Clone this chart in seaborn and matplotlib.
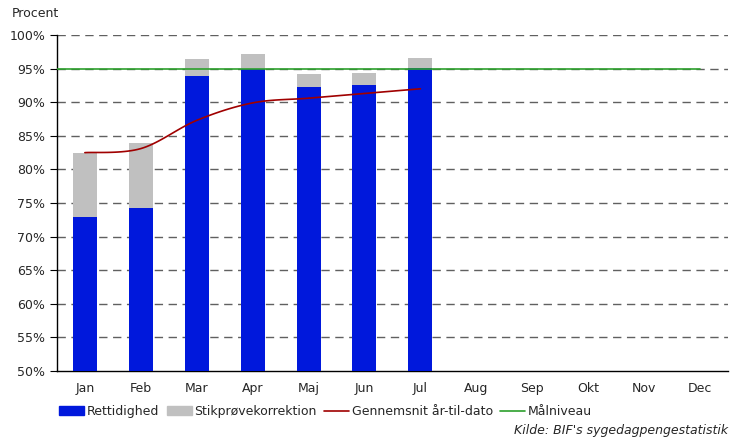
import numpy as np
import pandas as pd
import seaborn as sns
import matplotlib.pyplot as plt
from matplotlib.patches import Patch
from matplotlib.lines import Line2D

months = ["Jan", "Feb", "Mar", "Apr", "Maj", "Jun", "Jul", "Aug", "Sep", "Okt", "Nov", "Dec"]
months_data = ["Jan", "Feb", "Mar", "Apr", "Maj", "Jun", "Jul"]
rettidighed = [72.9, 74.3, 93.9, 94.9, 92.3, 92.6, 95.1]
stikproeve_total = [82.4, 83.9, 96.4, 97.2, 94.2, 94.3, 96.6]
gennemsnit = [82.5, 83.1, 87.3, 89.9, 90.6, 91.3, 92.0]
maalniveau = 95

sns.set_style("white")
plt.rcParams['font.family'] = ['DejaVu Sans']

df = pd.DataFrame({"maaned": months_data, "rettidighed": rettidighed,
                   "total": stikproeve_total})

fig = plt.figure(figsize=(7.39, 4.46), dpi=100)
ax = fig.add_axes([0.077, 0.168, 0.908, 0.7535])

for y in range(55, 101, 5):
    ax.axhline(y, color='#606060', ls=(0, (6, 4)), lw=1, zorder=0)

sns.barplot(data=df, x="maaned", y="total", order=months, color='#c0c0c0',
            width=0.43, saturation=1, linewidth=0, edgecolor='none', ax=ax, zorder=2)
sns.barplot(data=df, x="maaned", y="rettidighed", order=months, color='#0018dc',
            width=0.43, saturation=1, linewidth=0, edgecolor='none', ax=ax, zorder=3)

# udglattet linje (Catmull-Rom)
def smooth(xs, ys, n=20):
    p = np.column_stack([xs, ys]).astype(float)
    p = np.vstack([p[0], p, p[-1]])
    out = []
    for i in range(1, len(p) - 2):
        t = np.linspace(0, 1, n)[:, None]
        p0, p1, p2, p3 = p[i - 1], p[i], p[i + 1], p[i + 2]
        seg = 0.5 * ((2 * p1) + (-p0 + p2) * t + (2 * p0 - 5 * p1 + 4 * p2 - p3) * t ** 2
                     + (-p0 + 3 * p1 - 3 * p2 + p3) * t ** 3)
        out.append(seg)
    return np.vstack(out)

curve = smooth(np.arange(len(gennemsnit)), gennemsnit)
sns.lineplot(x=curve[:, 0], y=curve[:, 1], color='#a00000', lw=1.2, ax=ax, zorder=4,
             sort=False, estimator=None)
ax.plot([-0.5, 11], [maalniveau, maalniveau], color='#2ca02c', lw=1.2, zorder=4)

ax.set_ylim(50, 100)
ax.set_xlim(-0.5, 11.5)
ax.set_yticks(range(50, 101, 5))
ax.set_yticklabels([f"{v}%" for v in range(50, 101, 5)], fontsize=9)
ax.set_xticks(range(12))
ax.set_xticklabels(months, fontsize=9)
ax.set_xticks(np.arange(-0.5, 12, 1), minor=True)
ax.tick_params(axis='x', which='major', length=0, pad=8)
ax.tick_params(axis='x', which='minor', length=5, direction='out', color='black')
ax.tick_params(axis='y', length=5, direction='out', color='black', left=True)
ax.set_xlabel("")
ax.set_ylabel("")
for s in ['top', 'right']:
    ax.spines[s].set_visible(False)
for s in ['left', 'bottom']:
    ax.spines[s].set_color('black')
    ax.spines[s].set_linewidth(1)

fig.text(0.016, 0.962, "Procent", fontsize=9)

handles = [Patch(color='#0018dc'), Patch(color='#c0c0c0'),
           Line2D([], [], color='#a00000', lw=1.2), Line2D([], [], color='#2ca02c', lw=1.2)]
labels = ["Rettidighed", "Stikprøvekorrektion", "Gennemsnit år-til-dato", "Målniveau"]
fig.legend(handles, labels, loc='center left', bbox_to_anchor=(0.065, 0.077), ncol=4,
           frameon=False, fontsize=9, handlelength=2.0, handletextpad=0.2, columnspacing=0.6)

fig.text(0.985, 0.028, "Kilde: BIF's sygedagpengestatistik", fontsize=9, style='italic',
         ha='right')

fig.savefig("out.png", dpi=100)
